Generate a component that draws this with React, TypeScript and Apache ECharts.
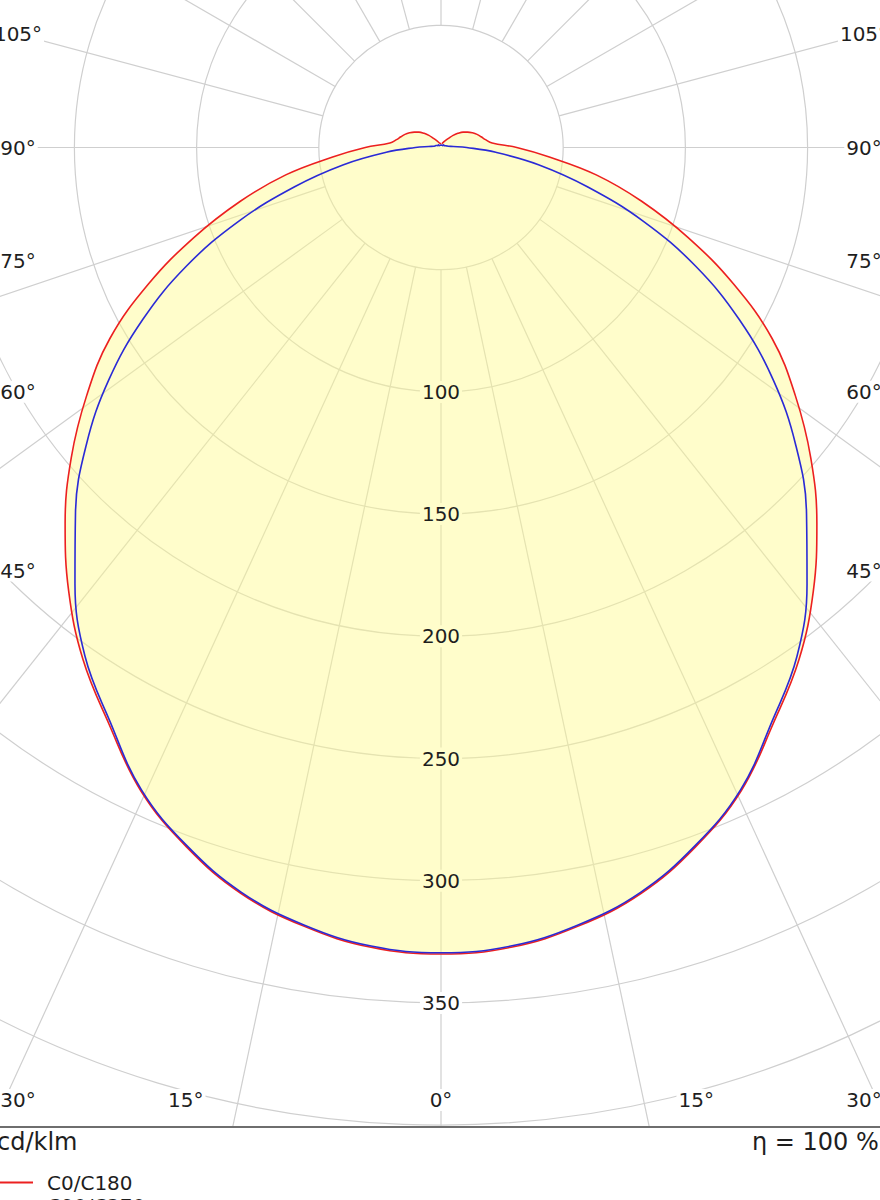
import React, { useEffect, useRef } from 'react';
import * as echarts from 'echarts';

// gamma angles (degrees from nadir) of the readings
const GAMMA = [
  0, 5, 10, 15, 20, 25, 30, 35, 40, 45, 50, 55, 60, 65, 70, 75, 80, 85, 90, 95, 100, 105, 110,
  115, 120, 125, 130, 135, 140, 150, 160, 170, 180,
];

const C0_C180 = [
  330, 328.5, 323.5, 316, 304.5, 290.5, 272, 255.5, 237, 217.5, 197.5, 177, 156.5, 132, 107.5, 85,
  64.5, 44.5, 31, 21, 18.5, 17, 15.7, 14.2, 12.6, 11, 9, 7, 5, 3, 2, 1.5, 1.5,
];

// cd/klm, C90 half; C270 mirrors it
const C90_C270 = [
  329.5, 328, 323, 315.5, 304, 290, 271, 254, 233, 211.5, 189.5, 166, 141, 115, 88, 62, 40.5, 22.5,
  10.5, 5, 3, 2.5, 2, 2, 1.5, 1.5, 1.5, 1.5, 1, 1, 1, 1, 1,
];

const SERIES_NAMES = ['C0/C180', 'C90/C270'];
const RADIUS_LABELS = [100, 150, 200, 250, 300, 350];
const ANGLE_LABELS = [0, 15, 30, 45, 60, 75, 90, 105];
const GRID_GAMMA = [0, 15, 30, 45, 60, 75, 90, 105, 120, 135, 150, 165, 180];

const CX = 441;
const CY = 147.5;
const PX_PER_UNIT = 2.444;
const R_MAX = 500;
const RAY_START = 50;
// the lower rays of the original look vertically stretched
const LOWER_RAY_STRETCH = 1.26;
const SIDE_INSET = 423;
const BOTTOM_LABEL_Y = 1100;
const FOOT_Y = 1127;
const LEGEND_TOP = 1171;
const LEGEND_ROW = 23;

const FONT = 'DejaVu Sans';
const TEXT = '#1e1e1e';
const GRID = '#cfcfcf';
const RED = '#ec2020';
const BLUE = '#2a2ad6';
const FILL = 'rgba(255, 251, 140, 0.45)';
const FILL_SOLID = '#fffdcb';

// left half runs gamma 180 -> 0 (angle value = gamma), right half 0 -> 180 (360 - gamma)
const toPolar = (vals: number[]) => [
  ...GAMMA.map((g, i) => [vals[i], g]).reverse(),
  ...GAMMA.slice(1).map((g, i) => [vals[i + 1], 360 - g]),
];

const rayAngle = (g: number) => {
  if (g >= 90) return g;
  const rad = (g * Math.PI) / 180;
  return (Math.atan(Math.tan(rad) / LOWER_RAY_STRETCH) * 180) / Math.PI;
};

const angleLabelPos = (g: number, side: number) => {
  const rad = (g * Math.PI) / 180;
  if (g < 45) {
    let x = CX + side * (BOTTOM_LABEL_Y - CY) * Math.tan(rad);
    x = Math.max(CX - SIDE_INSET, Math.min(CX + SIDE_INSET, x));
    return { x, y: BOTTOM_LABEL_Y };
  }
  return { x: CX + side * SIDE_INSET, y: CY + (SIDE_INSET * Math.cos(rad)) / Math.sin(rad) };
};

const App: React.FC = () => {
  const chartRef = useRef<HTMLDivElement>(null);

  useEffect(() => {
    if (!chartRef.current) return;
    const chart = echarts.init(chartRef.current, undefined, { renderer: 'svg' });

    // grid rays, starting at the 50 circle
    const rayAngles: number[] = [];
    GRID_GAMMA.forEach((g) => {
      const a = rayAngle(g);
      rayAngles.push(a);
      if (g !== 0 && g !== 180) rayAngles.push(360 - a);
    });
    const raySeries = rayAngles.map((a) => ({
      type: 'line',
      coordinateSystem: 'polar',
      data: [
        [RAY_START, a],
        [R_MAX, a],
      ],
      symbol: 'none',
      silent: true,
      lineStyle: { color: GRID, width: 1.2 },
      z: 1,
    }));

    const angleTexts: any[] = [];
    ANGLE_LABELS.forEach((g) => {
      const sides = g === 0 ? [0] : [-1, 1];
      sides.forEach((s) => {
        const p = angleLabelPos(g, s);
        angleTexts.push({
          type: 'text',
          x: p.x,
          y: p.y,
          z: 12,
          style: {
            text: `${g}\u00b0`,
            fill: TEXT,
            font: `20px "${FONT}"`,
            align: 'center',
            verticalAlign: 'middle',
            backgroundColor: '#ffffff',
            padding: [1, 2],
          },
        });
      });
    });

    // one legend per row, so the second row is not wrapped into a new column
    const legends = SERIES_NAMES.map((name, i) => ({
      orient: 'vertical',
      left: 0,
      top: LEGEND_TOP + i * LEGEND_ROW,
      padding: 0,
      itemWidth: 33,
      itemHeight: 2,
      icon: 'rect',
      z: 20,
      data: [name],
      textStyle: {
        fontFamily: FONT,
        fontSize: 20,
        color: TEXT,
        lineHeight: LEGEND_ROW,
        padding: [0, 0, 0, 9],
      },
    }));

    const option: any = {
      animation: false,
      polar: { center: [CX, CY], radius: R_MAX * PX_PER_UNIT },
      angleAxis: {
        type: 'value',
        min: 0,
        max: 360,
        startAngle: 270,
        clockwise: true,
        axisLine: { show: false },
        axisTick: { show: false },
        axisLabel: { show: false },
        splitLine: { show: false },
      },
      radiusAxis: {
        type: 'value',
        min: 0,
        max: R_MAX,
        interval: 50,
        axisLine: { show: false },
        axisTick: { show: false },
        axisLabel: { show: false },
        splitLine: { show: true, lineStyle: { color: GRID, width: 1.2 } },
      },
      legend: legends,
      graphic: [
        ...angleTexts,
        {
          type: 'rect',
          z: 10,
          shape: { x: 0, y: FOOT_Y, width: 880, height: 1200 - FOOT_Y },
          style: { fill: '#ffffff' },
        },
        {
          type: 'line',
          z: 11,
          shape: { x1: 0, y1: FOOT_Y, x2: 880, y2: FOOT_Y },
          style: { stroke: '#6e6e6e', lineWidth: 2 },
        },
        {
          type: 'text',
          z: 12,
          x: -3,
          y: 1142,
          style: {
            text: 'cd/klm',
            fill: TEXT,
            font: `24px "${FONT}"`,
            align: 'left',
            verticalAlign: 'middle',
          },
        },
        {
          type: 'text',
          z: 12,
          x: 752,
          y: 1142,
          style: {
            text: '\u03b7 = 100 %',
            fill: TEXT,
            font: `24px "${FONT}"`,
            align: 'left',
            verticalAlign: 'middle',
          },
        },
      ],
      series: [
        ...raySeries,
        {
          name: SERIES_NAMES[0],
          type: 'line',
          coordinateSystem: 'polar',
          data: toPolar(C0_C180),
          symbol: 'none',
          smooth: 0.4,
          itemStyle: { color: RED },
          lineStyle: { color: RED, width: 1.6 },
          areaStyle: { color: FILL, opacity: 1 },
          z: 2,
        },
        {
          name: SERIES_NAMES[1],
          type: 'line',
          coordinateSystem: 'polar',
          data: toPolar(C90_C270),
          symbol: 'none',
          smooth: 0.4,
          itemStyle: { color: BLUE },
          lineStyle: { color: BLUE, width: 1.6 },
          z: 3,
        },
        {
          type: 'scatter',
          coordinateSystem: 'polar',
          symbolSize: 1,
          silent: true,
          itemStyle: { color: 'rgba(0,0,0,0)', opacity: 1 },
          z: 4,
          data: RADIUS_LABELS.map((v) => ({
            value: [v, 0],
            label: { backgroundColor: v < C0_C180[0] ? FILL_SOLID : '#ffffff' },
          })),
          label: {
            show: true,
            position: 'inside',
            formatter: (p: any) => String(p.value[0]),
            fontFamily: FONT,
            fontSize: 20,
            color: TEXT,
            opacity: 1,
            padding: [1, 2],
          },
        },
      ],
    };

    chart.setOption(option);

    return () => {
      chart.dispose();
    };
  }, []);

  return (
    <div
      ref={chartRef}
      style={{ position: 'absolute', left: 0, top: 0, width: '880px', height: '1200px' }}
    />
  );
};

export default App;
